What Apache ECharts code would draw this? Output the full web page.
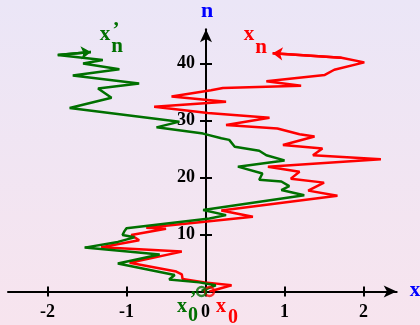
<!DOCTYPE html>
<html>
<head>
<meta charset="utf-8">
<script src="https://cdn.jsdelivr.net/npm/echarts@6/dist/echarts.min.js"></script>
<style>
  html, body { margin: 0; padding: 0; }
  #container { width: 420px; height: 325px; }
</style>
</head>
<body>
<div id="container"></div>
<script>
// walk x_n (red) as [x, n]
var redX = [0.05, 0.33, -0.01, -0.29, -0.30, -0.37, -0.96, -0.30, -1.32, -0.84, -0.94, -0.50, -0.75,
            0.60, 0.20, 1.67, 1.30, 1.50, 1.08, 1.19, 0.79, 2.22, 1.36, 1.48, 0.98, 1.38, 1.19, 0.91,
            0.26, 0.81, 0.03, -0.65, 0.26, -0.43, 0.07, 0.22, 1.21, 0.77, 1.51, 1.63, 2.01, 1.72, 0.85];
var redN = [0, 1.1, 1.6, 2.2, 3.0, 3.5, 5.05, 7.0, 7.75, 9.0, 9.9, 11.0, 11.2,
            13.1, 14.2, 16.8, 17.7, 19.1, 19.8, 21.0, 21.9, 23.2, 23.9, 25.1, 25.7, 27.2, 27.6, 28.6,
            29.2, 30.5, 31.3, 32.4, 33.3, 34.2, 35.3, 35.7, 36.1, 36.9, 38.0, 38.9, 40.2, 41.0, 41.8];
// walk x'_n (green)
var greenX = [-0.05, 0.13, -0.08, -0.46, -0.39, -1.11, -0.58, -1.53, -1.11, -0.90, -1.05, -1.03, -1.00,
              0.05, 0.26, -0.03, 1.25, 0.96, 1.06, 0.96, 0.68, 0.72, 0.41, 1.00, 0.77, 0.68, 0.37, 0.30,
              0.20, -0.03, -0.62, -0.33, -1.72, -1.19, -1.36, -0.84, -1.68, -1.09, -1.55, -1.30, -1.87, -1.45];
var greenN = [0.1, 1.1, 1.6, 2.1, 2.9, 4.9, 6.5, 7.7, 8.7, 9.5, 9.9, 10.5, 11.1,
              12.8, 13.4, 14.3, 16.9, 17.8, 18.5, 19.3, 19.6, 20.7, 21.9, 23.0, 23.9, 24.7, 25.4, 26.6,
              26.9, 27.7, 28.8, 29.8, 32.2, 34.0, 35.6, 36.5, 37.9, 39.0, 40.0, 40.6, 41.5, 42.0];
// starting points x_0 and x'_0
var startX = [0.05, -0.05];
var startN = [0, 0];
// tick labels
var xTicks = [-2, -1, 0, 1, 2];
var nTicks = [10, 20, 30, 40];

function pairs(xs, ns) {
    return xs.map(function (x, i) { return [x, ns[i]]; });
}
function lastSeg(xs, ns) {
    var k = xs.length - 1;
    return [{ coords: [[xs[k - 1], ns[k - 1]], [xs[k], ns[k]]] }];
}

var RED = '#ff0000', GREEN = '#007000', BLUE = '#0000ff';
var serif = "'Liberation Serif', 'DejaVu Serif', serif";
var tickStyle = { color: '#000', width: 2 };

function lbl(text, x, y, color, size) {
    return {
        type: 'text', z: 100,
        style: { text: text, x: x, y: y, fill: color, font: 'bold ' + size + 'px ' + serif,
                 align: 'center', verticalAlign: 'middle' }
    };
}

var myChart = echarts.init(document.getElementById('container'));
var option = {
    backgroundColor: new echarts.graphic.LinearGradient(0, 0, 0, 1, [
        { offset: 0, color: '#ebe6f7' },
        { offset: 1, color: '#f7e4ee' }
    ]),
    animation: false,
    // grid 0 holds the walks, grid 1 starts at x = 0 and only carries the n axis
    grid: [
        { left: 8, right: 23.3, top: 29.3, bottom: 33.5, containLabel: false, outerBoundsMode: 'none' },
        { left: 206, right: 23.3, top: 29.3, bottom: 33.5, containLabel: false }
    ],
    xAxis: [{
        gridIndex: 0, type: 'value', min: -2.5, max: 2.42, position: 'bottom',
        splitLine: { show: false },
        axisLine: { show: true, onZero: true, symbol: ['none', 'arrow'], symbolSize: [9, 13],
                    lineStyle: tickStyle },
        axisTick: { show: true, inside: false, length: 5, customValues: xTicks, lineStyle: tickStyle },
        axisLabel: { customValues: xTicks, margin: 12, color: '#000', fontWeight: 'bold',
                     fontSize: 18, fontFamily: serif }
    }, {
        gridIndex: 0, type: 'value', min: -2.5, max: 2.42, position: 'bottom',
        splitLine: { show: false },
        axisLine: { show: false, onZero: false },
        axisTick: { show: true, inside: true, length: 5, customValues: xTicks, lineStyle: tickStyle },
        axisLabel: { show: false }
    }, {
        gridIndex: 1, type: 'value', min: 0, max: 1, show: false
    }],
    yAxis: [{
        gridIndex: 0, type: 'value', min: 0, max: 46, show: false
    }, {
        gridIndex: 1, type: 'value', min: 0, max: 46, position: 'left',
        splitLine: { show: false },
        axisLine: { show: true, onZero: false, symbol: ['none', 'arrow'], symbolSize: [9, 13],
                    lineStyle: tickStyle },
        axisTick: { show: true, inside: false, length: 6, customValues: nTicks, lineStyle: tickStyle },
        axisLabel: { customValues: nTicks, margin: 11, color: '#000', fontWeight: 'bold',
                     fontSize: 18, fontFamily: serif }
    }, {
        gridIndex: 1, type: 'value', min: 0, max: 46, position: 'left',
        splitLine: { show: false },
        axisLine: { show: false, onZero: false },
        axisTick: { show: true, inside: true, length: 6, customValues: nTicks, lineStyle: tickStyle },
        axisLabel: { show: false }
    }],
    series: [{
        name: 'x_n', type: 'line', data: pairs(redX, redN), symbol: 'none', z: 3,
        xAxisIndex: 0, yAxisIndex: 0,
        lineStyle: { color: RED, width: 2.5 }
    }, {
        name: "x'_n", type: 'line', data: pairs(greenX, greenN), symbol: 'none', z: 4,
        xAxisIndex: 0, yAxisIndex: 0,
        lineStyle: { color: GREEN, width: 2.5 }
    }, {
        type: 'lines', coordinateSystem: 'cartesian2d', data: lastSeg(redX, redN), z: 5,
        xAxisIndex: 0, yAxisIndex: 0,
        symbol: ['none', 'arrow'], symbolSize: 10, lineStyle: { color: RED, width: 2.5, opacity: 1 }
    }, {
        type: 'lines', coordinateSystem: 'cartesian2d', data: lastSeg(greenX, greenN), z: 5,
        xAxisIndex: 0, yAxisIndex: 0,
        symbol: ['none', 'arrow'], symbolSize: 10, lineStyle: { color: GREEN, width: 2.5, opacity: 1 }
    }, {
        type: 'scatter', z: 6, symbol: 'circle', symbolSize: 9,
        xAxisIndex: 0, yAxisIndex: 0,
        data: [
            { value: [startX[0], startN[0]], itemStyle: { color: 'rgba(0,0,0,0)', borderColor: RED, borderWidth: 2.5 } },
            { value: [startX[1], startN[1]], itemStyle: { color: 'rgba(0,0,0,0)', borderColor: GREEN, borderWidth: 2.5 } }
        ]
    }],
    graphic: [
        lbl('n', 207, 11, BLUE, 22),
        lbl('x', 415, 291, BLUE, 21),
        lbl('x', 249, 35, RED, 21),
        lbl('n', 261, 48, RED, 21),
        lbl('x', 105, 35, GREEN, 21),
        lbl('\u2019', 116, 31, GREEN, 21),
        lbl('n', 117, 47, GREEN, 21),
        lbl('x', 182, 307, GREEN, 20),
        lbl('\u2019', 193, 300, GREEN, 20),
        lbl('0', 193, 316, GREEN, 20),
        lbl('x', 221, 307, RED, 20),
        lbl('0', 233, 318, RED, 20)
    ]
};
myChart.setOption(option);
</script>
</body>
</html>
